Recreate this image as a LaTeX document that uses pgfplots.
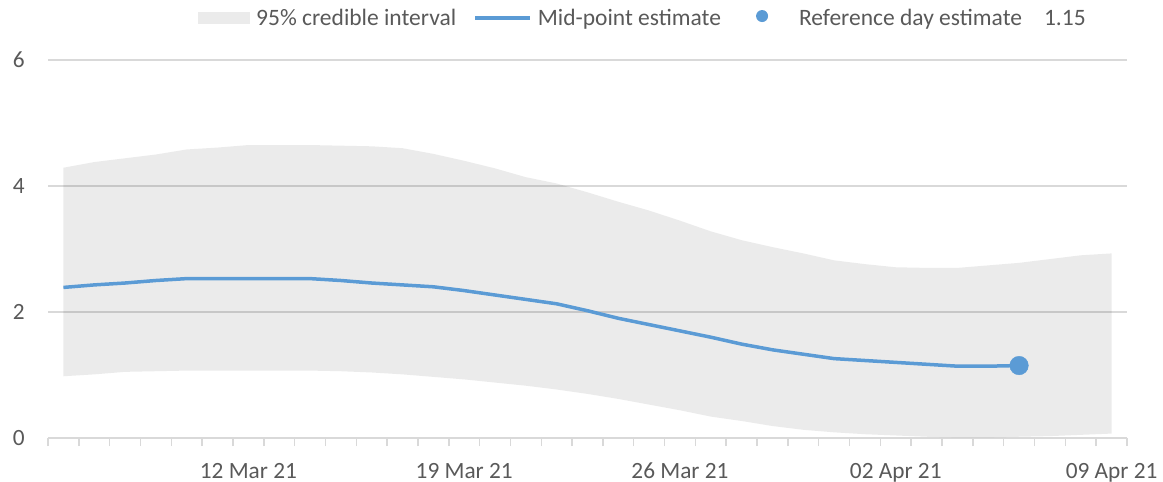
\documentclass[border=0pt]{standalone}
\usepackage{pgfplots}
\usepackage{pgfplotstable}
\pgfplotsset{compat=1.18}
\usepgfplotslibrary{fillbetween}
\usepackage{fontspec}
\setmainfont{Carlito}
\definecolor{txt}{HTML}{595959}
\definecolor{gridc}{HTML}{D9D9D9}
\definecolor{blu}{HTML}{5B9BD5}

\pgfplotstableread{
d lo hi
0 0.98 4.29
1 1.01 4.38
2 1.05 4.44
3 1.06 4.50
4 1.07 4.58
5 1.07 4.61
6 1.07 4.65
7 1.07 4.65
8 1.07 4.65
9 1.06 4.64
10 1.04 4.63
11 1.01 4.60
12 0.97 4.51
13 0.93 4.40
14 0.88 4.28
15 0.83 4.14
16 0.77 4.04
17 0.70 3.90
18 0.62 3.75
19 0.53 3.61
20 0.44 3.45
21 0.34 3.28
22 0.27 3.14
23 0.19 3.03
24 0.13 2.93
25 0.09 2.82
26 0.06 2.76
27 0.04 2.71
28 0.02 2.70
29 0.01 2.70
30 0.01 2.74
31 0.02 2.78
32 0.03 2.84
33 0.05 2.90
34 0.07 2.93
}\bandtab

\pgfplotstableread{
d mid
0 2.39
1 2.43
2 2.46
3 2.50
4 2.53
5 2.53
6 2.53
7 2.53
8 2.53
9 2.50
10 2.46
11 2.43
12 2.40
13 2.34
14 2.27
15 2.20
16 2.13
17 2.02
18 1.90
19 1.80
20 1.70
21 1.60
22 1.49
23 1.40
24 1.33
25 1.26
26 1.23
27 1.20
28 1.17
29 1.14
30 1.14
31 1.15
}\midtab

\begin{document}
\begin{tikzpicture}
\path (0,0) rectangle (1163bp,482bp);
\begin{axis}[
  at={(48bp,44bp)}, anchor=south west,
  scale only axis, width=1079bp, height=378bp,
  xmin=-0.5, xmax=34.5, ymin=0, ymax=6,
  axis x line*=bottom, axis y line*=left,
  x axis line style={draw=gridc, line width=1.5bp, -},
  y axis line style={draw=none, -},
  xtick={6,13,20,27,34},
  xticklabels={12 Mar 21, 19 Mar 21, 26 Mar 21, 02 Apr 21, 09 Apr 21},
  minor xtick={-0.5,0.5,...,34.5},
  ytick={0,2,4,6}, yticklabels={0,2,4,6},
  ymajorgrids, grid style={draw=gridc, line width=1.5bp},
  major tick length=0pt,
  minor tick length=8bp,
  tick align=outside,
  minor tick style={draw=gridc, line width=1.5bp},
  ytick style={draw=none},
  tick label style={font=\fontsize{23.3bp}{28bp}\selectfont, text=txt},
  xticklabel style={anchor=base, inner sep=0pt, yshift=-40bp},
  yticklabel style={anchor=east, inner sep=0pt, xshift=-23bp},
  legend columns=-1,
  legend style={at={(axis description cs:0.139,1.111)}, anchor=west,
    draw=none, fill=none, inner sep=0pt,
    font=\fontsize{23.5bp}{28bp}\selectfont, text=txt,
    column sep=0pt,
    /tikz/every odd column/.append style={column sep=6bp},
    /tikz/every even column/.append style={column sep=17bp},
    nodes={inner sep=0pt}},
]
\addplot[name path=up, draw=none, forget plot] table[x=d,y=hi]{\bandtab};
\addplot[name path=lo, draw=none, forget plot] table[x=d,y=lo]{\bandtab};
\addplot[fill=black, fill opacity=0.08, draw=none,
  legend image code/.code={\fill[black, fill opacity=0.08] (0bp,-6bp) rectangle (52bp,6bp);}]
  fill between[of=up and lo];
\addlegendentry{95\% credible interval}
\addplot[blu, line width=3.5bp, line join=round,
  legend image code/.code={\draw[blu, line width=3.5bp] (0bp,0bp) -- (55bp,0bp);}]
  table[x=d,y=mid]{\midtab};
\addlegendentry{Mid-point estimate}
\addplot[only marks, mark=*, mark size=9.3bp, color=blu, mark options={fill=blu, draw=blu},
  legend image code/.code={\path[draw=none, fill=none] (0bp,-6bp) rectangle (55bp,6bp); \fill[blu, draw=none] (24bp,2bp) circle (6bp);}]
  coordinates {(31,1.15)};
\addlegendentry{Reference day estimate\hspace{22bp}1.15}
\end{axis}
\end{tikzpicture}
\end{document}
